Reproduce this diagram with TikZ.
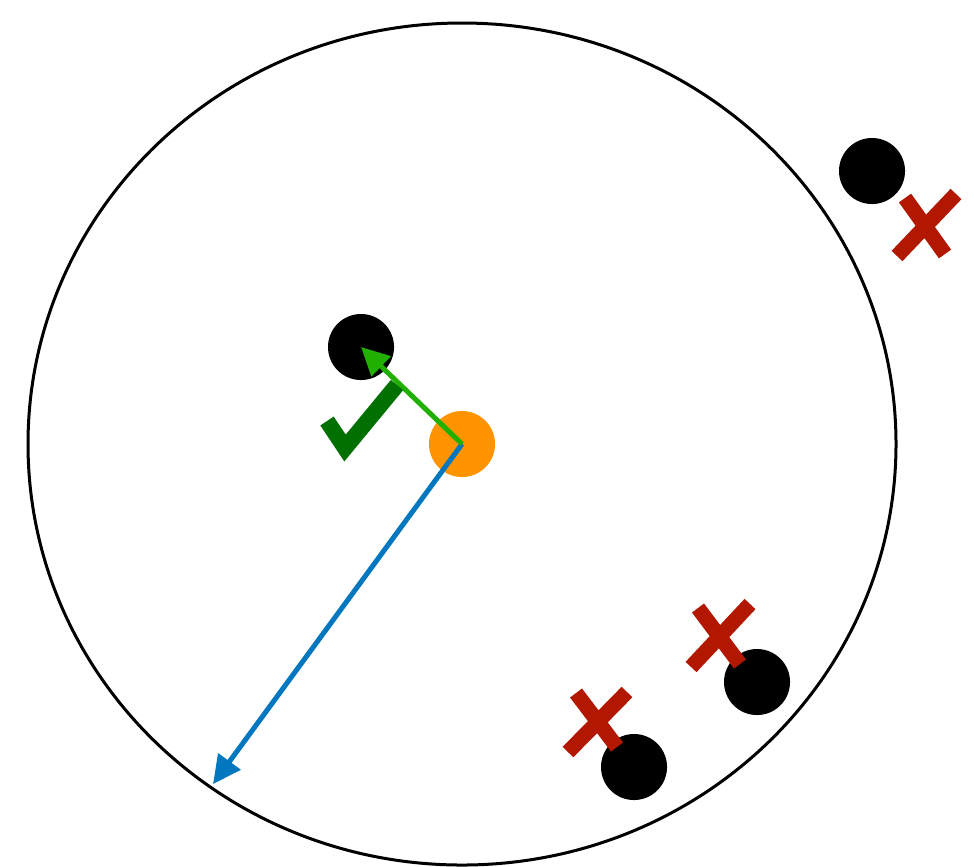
\documentclass[tikz,border=0pt]{standalone}
\usetikzlibrary{arrows.meta}
\definecolor{queryorange}{RGB}{255,148,0}
\definecolor{hitgreen}{RGB}{34,176,0}
\definecolor{tickgreen}{RGB}{0,112,0}
\definecolor{radiusblue}{RGB}{0,119,190}
\definecolor{missred}{RGB}{178,24,0}
\tikzset{
  dot/.style={circle, fill=black, minimum size=0.66cm, inner sep=0pt},
  arrowline/.style={line width=0.05cm},
  tickmark/.style={tickgreen, line width=0.16cm},
  crossmark/.style={missred, line width=0.15cm}
}
\begin{document}
\begin{tikzpicture}[x=0.01cm, y=-0.01cm, >={Triangle[length=0.28cm, width=0.27cm]}]
    \useasboundingbox (0,0) rectangle (974,866);
    % search radius
    \draw[line width=0.03cm] (462,444) ellipse [x radius=434, y radius=421];
    % points
    \node[dot, fill=queryorange] (query) at (462,444) {};
    \node[dot] (inside) at (361,347) {};
    \node[dot] (outA) at (872,171) {};
    \node[dot] (outB) at (757,682) {};
    \node[dot] (outC) at (634,767) {};
    \coordinate (rim) at (213,784);
    % arrows
    \draw[->, arrowline, radiusblue] (query.center) -- (rim);
    \draw[->, arrowline, hitgreen] (query.center) -- (inside.center);
    % marks
    \draw[tickmark] (327,421) -- (345,448) -- (397,385);
    \draw[crossmark] (897,256) -- (956,194) (905,198) -- (945,254);
    \draw[crossmark] (691,667) -- (750,604) (698,608) -- (740,664);
    \draw[crossmark] (568,752) -- (627,692) (576,693) -- (617,747);
\end{tikzpicture}
\end{document}
